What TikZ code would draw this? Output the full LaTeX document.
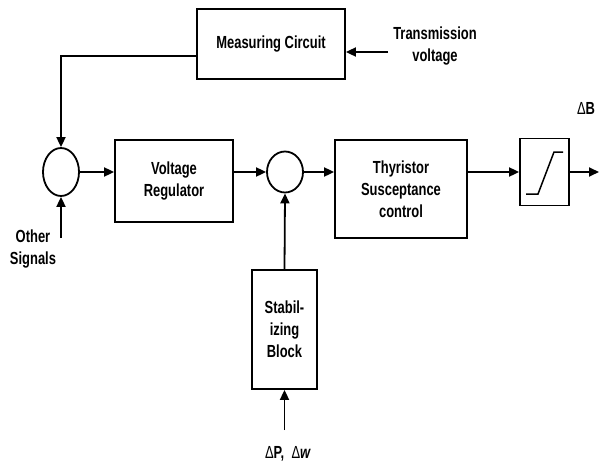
\documentclass[tikz,border=0pt]{standalone}
\usepackage{fontspec}
\setmainfont{Liberation Sans}[FakeStretch=0.74]
\usetikzlibrary{arrows.meta, shapes.geometric}

\begin{document}
\begin{tikzpicture}[x=1pt, y=-1pt, line width=1.8pt,
    font=\fontsize{17.5}{22}\selectfont\bfseries,
    blk/.style={draw, rectangle, align=center, inner sep=0pt},
    sum/.style={draw, ellipse, inner sep=0pt},
    sig/.style={-{Triangle[length=10pt,width=9pt]}}]
    \useasboundingbox (0,0) rectangle (599,466);
    \node[blk, minimum width=148pt, minimum height=70pt] (MC) at (271,44) {Measuring Circuit};
    \node[align=center] (TV) at (435,46) {Transmission\\voltage};
    \node[sum, minimum width=36pt, minimum height=48pt] (S1) at (61,172) {};
    \node[blk, minimum width=118pt, minimum height=82pt] (VR) at (174,181) {Voltage\\Regulator};
    \node[sum, minimum width=36pt, minimum height=41pt] (S2) at (285,172) {};
    \node[blk, minimum width=132pt, minimum height=98pt] (TSC) at (401,189) {Thyristor\\Susceptance\\control};
    \node[blk, minimum width=49pt, minimum height=67pt] (L) at (544.5,172) {};
    \node[blk, minimum width=65pt, minimum height=119pt] (SB) at (284.5,329.5) {Stabil-\\izing\\Block};
    \node[align=center] (OS) at (33,249) {Other\\Signals};
    \node (DB) at (586,108) {{\mdseries Δ}B};
    \node (DP) at (288,454) {{\mdseries Δ}P,\ \ {\mdseries Δ}\textit{w}};
    \coordinate (FB) at (61,56);
    \coordinate (TI) at (388,52);
    \coordinate (OI) at (61,238);
    \coordinate (DI) at (284.5,430);
    \coordinate (OUT) at (599,172);
    \draw[sig] (TI) -- (TI -| MC.east);
    \draw[sig] (MC.west |- FB) -- (FB) -- (S1.north);
    \draw[sig] (OI) -- (S1.south);
    \draw[sig] (S1.east) -- (S1.east -| VR.west);
    \draw[sig] (VR.east |- S2.west) -- (S2.west);
    \draw[sig] (S2.east) -- (S2.east -| TSC.west);
    \draw[sig] (TSC.east |- L.west) -- (L.west);
    \draw[sig] (L.east) -- (OUT);
    \draw[sig] (SB.north) -- (S2.south);
    \draw[sig] (DI) -- (SB.south);
    \draw[line width=1.5pt] (526,194) -- (538,194) -- (554,152) -- (563,152);
\end{tikzpicture}
\end{document}
